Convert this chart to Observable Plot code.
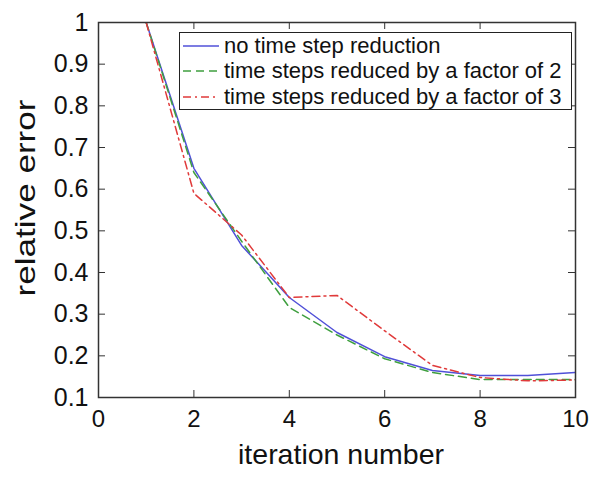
<!DOCTYPE html>
<html><head><meta charset="utf-8">
<script src="https://cdn.jsdelivr.net/npm/d3@7"></script>
<script src="https://cdn.jsdelivr.net/npm/@observablehq/plot@0.6"></script>
<style>
body{margin:0;background:#fff;}
#wrap{position:relative;width:600px;height:481px;font-family:"Liberation Sans",Arial,Helvetica,sans-serif;}
#legend{position:absolute;left:179px;top:32px;width:393px;height:78px;border:1.5px solid #222;background:#fff;box-sizing:border-box;font-size:22px;color:#111;padding-top:0px}
.row{display:flex;align-items:center;height:25.5px;white-space:nowrap}
.row svg{margin-left:3px;margin-right:5px;flex:none}
</style></head>
<body><div id="wrap"><div id="legend"></div></div>
<script>
const iterations = [1, 2, 3, 4, 5, 6, 7, 8, 9, 10];
const noReduction = [1.0, 0.65, 0.465, 0.34, 0.256, 0.198, 0.165, 0.153, 0.153, 0.16];
const factor2 = [1.0, 0.64, 0.475, 0.316, 0.25, 0.193, 0.16, 0.143, 0.143, 0.143];
const factor3 = [1.0, 0.59, 0.49, 0.34, 0.345, 0.26, 0.177, 0.148, 0.14, 0.142];
const seriesNames = ["no time step reduction", "time steps reduced by a factor of 2", "time steps reduced by a factor of 3"];
const seriesColors = ["#5050d8", "#3f9f3f", "#e03a3a"];
const seriesDashes = [null, "8,5", "8,4,2,4"];
const xTicks = [0, 2, 4, 6, 8, 10];
const yTicks = [0.1, 0.2, 0.3, 0.4, 0.5, 0.6, 0.7, 0.8, 0.9, 1];
const xLabel = "iteration number";
const yLabel = "relative error";

const W = 600, H = 481, mL = 98, mR = 25, mT = 22, mB = 84;
const pW = W - mL - mR, pH = H - mT - mB;
const allSeries = [noReduction, factor2, factor3];
const rows = allSeries.flatMap((vals, s) => iterations.map((x, i) => ({x, y: vals[i], s})));

const lineMarks = allSeries.map((vals, s) => Plot.line(rows.filter(d => d.s === s), {
  x: "x", y: "y", stroke: seriesColors[s], strokeWidth: 1.5,
  strokeDasharray: seriesDashes[s] || undefined, clip: true
}));

const chart = Plot.plot({
  width: W, height: H,
  marginLeft: mL, marginRight: mR, marginTop: mT, marginBottom: mB,
  style: {fontFamily: '"Liberation Sans", Arial, Helvetica, sans-serif', fontSize: "24px", color: "#111", background: "#fff"},
  x: {domain: [0, 10]},
  y: {domain: [0.1, 1]},
  marks: [
    ...lineMarks,
    Plot.frame({stroke: "#333", strokeWidth: 1.5}),
    Plot.tickY(yTicks, {y: d => d, insetRight: pW - 7, stroke: "#333"}),
    Plot.tickY(yTicks, {y: d => d, insetLeft: pW - 7, stroke: "#333"}),
    Plot.tickX(xTicks, {x: d => d, insetTop: pH - 7, stroke: "#333"}),
    Plot.tickX(xTicks, {x: d => d, insetBottom: pH - 7, stroke: "#333"}),
    Plot.axisX({ticks: xTicks, tickSize: 0, tickPadding: 12, label: null, fontSize: 24}),
    Plot.axisY({ticks: yTicks, tickSize: 0, tickPadding: 10, label: null, fontSize: 25, tickFormat: d => String(d)}),
    Plot.text([xLabel], {text: d => d, frameAnchor: "bottom", textAnchor: "middle", lineAnchor: "middle", dx: 4, dy: 57, fontSize: 28.5, fill: "#111"}),
    Plot.text([yLabel], {text: d => d, frameAnchor: "left", textAnchor: "middle", lineAnchor: "middle", rotate: -90, dx: -72, dy: -12, fontSize: 28, fill: "#111", className: "ylabel"})
  ]
});
const wrap = document.getElementById("wrap");
wrap.insertBefore(chart, wrap.firstChild);
// stretch the y label along its length like the reference
d3.select(chart).selectAll(".ylabel text").attr("textLength", 197).attr("lengthAdjust", "spacingAndGlyphs");

const legend = document.getElementById("legend");
seriesNames.forEach((name, s) => {
  const row = document.createElement("div");
  row.className = "row";
  row.innerHTML = `<svg width="36" height="10"><line x1="0" y1="5" x2="36" y2="5" stroke="${seriesColors[s]}" stroke-width="1.5" ${seriesDashes[s] ? `stroke-dasharray="${seriesDashes[s]}"` : ""}/></svg><span>${name}</span>`;
  legend.appendChild(row);
});
</script>
</body></html>
